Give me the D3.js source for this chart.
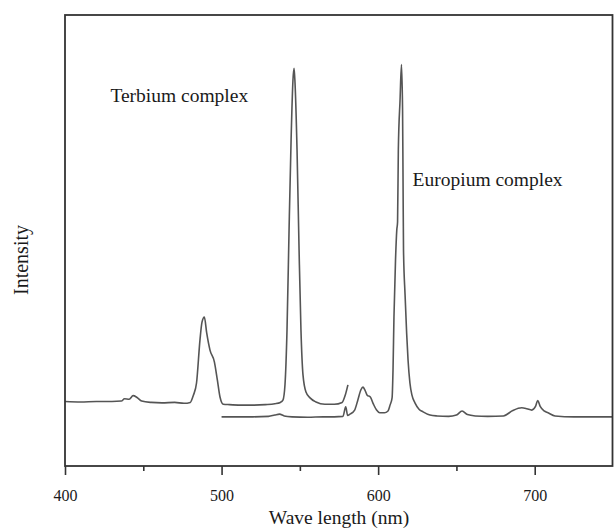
<!DOCTYPE html>
<html>
<head>
<meta charset="utf-8">
<script src="https://cdn.jsdelivr.net/npm/d3@7"></script>
<style>
  body { margin: 0; background: #fff; }
  svg { display: block; }
  text { font-family: "Liberation Serif", "Times New Roman", serif; fill: #1a1a1a; }
</style>
</head>
<body>
<div id="canvas"></div>
<script>
// emission spectra, intensity in arbitrary units
const terbiumWave = [400, 410, 420, 430, 436, 438, 441, 443.5, 446, 449,
    455, 462, 470, 476, 480, 482, 484, 486.2, 487.5, 489,
    490.5, 492.6, 495.4, 497.3, 499, 501.1, 505, 512, 520, 528,
    534, 537.5, 539.2, 540.5, 541.8, 543.1, 544.4, 545.6, 546.3, 546.9,
    548.2, 549.5, 550.7, 552, 553.9, 556.5, 560.3, 566, 572, 577,
    578.8, 580.7];
const terbiumIntensity = [14.3, 14.2, 14.3, 14.3, 14.4, 14.9, 14.8, 15.6, 15.2, 14.4,
    14.1, 14.0, 14.1, 13.9, 14.1, 15.7, 18.4, 27.9, 31.9, 33.0,
    29.5, 25.7, 23.1, 19.1, 15.3, 13.7, 13.6, 13.5, 13.5, 13.6,
    13.8, 14.1, 14.6, 18.0, 30.2, 52.3, 72.3, 85.6, 88.2, 85.0,
    70.1, 47.9, 30.2, 20.2, 16.4, 15.1, 14.2, 13.7, 13.7, 14.1,
    15.5, 18.0];

const europiumWave = [500, 510, 520, 530, 534, 537, 540, 545, 555, 565,
    572, 577.5, 579.3, 580.5, 582, 585, 587, 589, 590.3, 591.5,
    593, 595, 597, 599, 601, 604, 606.3, 607.6, 608.9, 609.5,
    610.1, 611.1, 611.9, 612.4, 612.9, 614.0, 614.9, 615.6, 615.9, 616.2,
    617.2, 618.2, 619.1, 620.3, 621.6, 623.5, 626.1, 628.7, 633.1, 637.6,
    645, 650, 653.6, 657, 662, 670, 680, 686, 691.7, 695,
    698.1, 700.5, 701.9, 703.5, 706, 708.5, 713, 725, 740, 750];
const europiumIntensity = [10.9, 10.9, 10.9, 11.0, 11.3, 11.5, 11.1, 10.9, 10.8, 10.9,
    10.9, 11.0, 13.1, 11.2, 11.5, 12.4, 14.6, 16.9, 17.5, 16.9,
    15.7, 15.3, 13.7, 12.4, 11.8, 11.8, 12.2, 13.5, 15.1, 21.3,
    33.0, 45.7, 52.3, 54.1, 70.1, 81.2, 89.0, 78.9, 63.4, 47.9,
    37.9, 29.5, 23.5, 18.4, 15.7, 14.0, 12.6, 12.0, 11.3, 11.1,
    11.0, 11.3, 12.2, 11.4, 11.1, 11.0, 11.1, 12.3, 12.9, 12.7,
    12.4, 13.2, 14.5, 13.2, 12.2, 11.8, 11.1, 10.9, 10.9, 10.9];

const majorTicks = [400, 500, 600, 700];
const minorTicks = [450, 550, 650];

const seriesLabels = [
    { text: "Terbium complex", wave: 429, intensity: 80.6 },
    { text: "Europium complex", wave: 622, intensity: 62 }
];

const width = 614, height = 528;
const margin = { top: 15, right: 1, bottom: 62, left: 65 };

const svg = d3.select('#canvas').append('svg')
    .attr('width', width)
    .attr('height', height);

const x = d3.scaleLinear()
    .domain([400, 750])
    .range([margin.left, width - margin.right]);

const y = d3.scaleLinear()
    .domain([0, 100])
    .range([height - margin.bottom, margin.top]);

const line = d3.line()
    .x(function (d) { return x(d[0]); })
    .y(function (d) { return y(d[1]); })
    .curve(d3.curveMonotoneX);

const terbium = d3.zip(terbiumWave, terbiumIntensity);
const europium = d3.zip(europiumWave, europiumIntensity);

svg.append('g')
    .selectAll('path')
    .data([terbium, europium])
    .enter()
    .append('path')
    .attr('d', line)
    .attr('fill', 'none')
    .attr('stroke', '#555')
    .attr('stroke-width', 1.6)
    .attr('stroke-linejoin', 'round');

// axis ticks (bottom only), frame drawn separately
const xAxis = svg.append('g')
    .attr('transform', 'translate(0,' + (height - margin.bottom) + ')')
    .call(d3.axisBottom(x).tickValues(majorTicks).tickSize(9).tickPadding(15).tickFormat(d3.format('d')));
xAxis.select('.domain').remove();
xAxis.selectAll('line').attr('stroke', '#333').attr('stroke-width', 1.6);
xAxis.selectAll('text').style('font-size', '16px').style('font-family', '"Liberation Serif", serif').attr('fill', '#1a1a1a');

svg.append('g')
    .attr('transform', 'translate(0,' + (height - margin.bottom) + ')')
    .call(d3.axisBottom(x).tickValues(minorTicks).tickSize(5).tickFormat(''))
    .call(function (g) { g.select('.domain').remove(); })
    .selectAll('line').attr('stroke', '#333').attr('stroke-width', 1.6);

svg.append('rect')
    .attr('x', margin.left)
    .attr('y', margin.top)
    .attr('width', width - margin.left - margin.right - 0.5)
    .attr('height', height - margin.top - margin.bottom)
    .attr('fill', 'none')
    .attr('stroke', '#333')
    .attr('stroke-width', 1.8);

svg.append('text')
    .attr('x', (x(400) + x(750)) / 2)
    .attr('y', 524)
    .attr('text-anchor', 'middle')
    .style('font-size', '19.5px')
    .text('Wave length (nm)');

svg.append('text')
    .attr('transform', 'translate(28,260) rotate(-90)')
    .attr('text-anchor', 'middle')
    .style('font-size', '20px')
    .text('Intensity');

svg.append('g')
    .selectAll('text')
    .data(seriesLabels)
    .enter()
    .append('text')
    .attr('x', function (d) { return x(d.wave); })
    .attr('y', function (d) { return y(d.intensity); })
    .style('font-size', '19.5px')
    .text(function (d) { return d.text; });
</script>
</body>
</html>
